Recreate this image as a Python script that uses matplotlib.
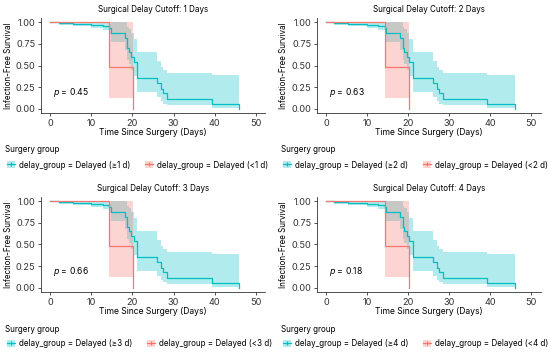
import matplotlib
matplotlib.use("Agg")
import matplotlib.pyplot as plt
from matplotlib.patches import Patch
from matplotlib.lines import Line2D

plt.rcParams['font.family'] = ['Inter', 'DejaVu Sans']

# ---- data ----
cutoffs = [1, 2, 3, 4]
p_values = ["0.45", "0.63", "0.66", "0.18"]

# delayed (>= cutoff) group: KM steps
t_ge = [0, 2, 5.4, 9.9, 12.7, 14.3, 14.7, 18.1, 18.7, 19.1, 19.6, 20.3, 21.2, 26.0, 27.0, 27.5, 28.4, 39.3, 46.0]
s_ge = [1.0, 0.99, 0.98, 0.97, 0.955, 0.93, 0.88, 0.82, 0.70, 0.66, 0.60, 0.54, 0.355, 0.30, 0.23, 0.18, 0.116, 0.058, 0.0]
lo_ge = [1.0, 0.97, 0.96, 0.94, 0.91, 0.86, 0.77, 0.68, 0.56, 0.52, 0.45, 0.38, 0.19, 0.135, 0.09, 0.06, 0.04, 0.01, 0.01]
hi_ge = [1.0, 1.0, 1.0, 0.995, 0.99, 0.985, 1.0, 1.0, 0.95, 0.92, 0.88, 0.81, 0.66, 0.55, 0.48, 0.45, 0.41, 0.39, 0.39]

# early (< cutoff) group
t_lt = [0, 14.3, 20.1]
s_lt = [1.0, 0.477, 0.0]
lo_lt = [1.0, 0.123, 0.123]
hi_lt = [1.0, 1.0, 1.0]

x_ticks = [0, 10, 20, 30, 40, 50]
y_ticks = [0.0, 0.25, 0.5, 0.75, 1.0]
y_ticklabels = ["0.00", "0.25", "0.50", "0.75", "1.00"]

teal = "#00BFC4"
red = "#F8766D"

fig = plt.figure(figsize=(5.5, 3.54), dpi=100)

W, H = 550.0, 354.0
panels = [
    (41, 18), (316.7, 18),
    (41, 197), (316.7, 197),
]
aw, ah = 224, 95

fs_tick = 6.6
fs_lab = 5.8
fs_title = 5.8
fs_leg = 5.8

for i, (px, py) in enumerate(panels):
    ax = fig.add_axes([px / W, 1 - (py + ah) / H, aw / W, ah / H])
    # CI bands
    ax.fill_between(t_ge, lo_ge, hi_ge, step='post', color=teal, alpha=0.3, lw=0)
    ax.fill_between(t_lt, lo_lt, hi_lt, step='post', color=red, alpha=0.3, lw=0)
    # curves
    ax.step(t_ge, s_ge, where='post', color=teal, lw=0.9)
    ax.step(t_lt, s_lt, where='post', color=red, lw=0.9)

    ax.set_xlim(-2.3, 52.3)
    ax.set_ylim(-0.05, 1.05)
    ax.set_xticks(x_ticks)
    ax.set_yticks(y_ticks)
    ax.set_yticklabels(y_ticklabels)
    for s in ['top', 'right']:
        ax.spines[s].set_visible(False)
    for s in ['left', 'bottom']:
        ax.spines[s].set_linewidth(0.6)
        ax.spines[s].set_color('#333333')
    ax.tick_params(labelsize=fs_tick, length=2.5, width=0.6, pad=1.5, colors='#333333', labelcolor='#333333')
    ax.set_xlabel("Time Since Surgery (Days)", fontsize=fs_lab + 0.4, labelpad=0.5)
    ax.set_ylabel("Infection-Free Survival", fontsize=fs_lab, labelpad=2)
    ax.set_title(f"Surgical Delay Cutoff: {cutoffs[i]} Days", fontsize=fs_title, pad=4)
    ax.text(0.6, 0.19, r"$\it{p}$ = " + p_values[i], fontsize=fs_lab + 0.4, va='center', ha='left')

    # legend
    c = cutoffs[i]
    h1 = (Patch(facecolor=teal, alpha=0.3, lw=0), Line2D([], [], color=teal, lw=0.9, marker='+', ms=3, mew=0.8))
    h2 = (Patch(facecolor=red, alpha=0.3, lw=0), Line2D([], [], color=red, lw=0.9, marker='+', ms=3, mew=0.8))
    leg_y = py + ah + 37
    fig.text((px - 36) / W, 1 - leg_y / H, "Surgery group", fontsize=fs_lab, va='center', ha='left')
    leg = fig.legend([h1, h2], [f"delay_group = Delayed (\u2265{c} d)", f"delay_group = Delayed (<{c} d)"],
                     loc='center left', bbox_to_anchor=((px - 34) / W, 1 - (py + ah + 52) / H),
                     ncol=2, frameon=False, fontsize=fs_leg, handlelength=1.0, handleheight=0.9,
                     columnspacing=1.85, handletextpad=0.5, borderpad=0, borderaxespad=0)

fig.savefig("out.png", dpi=100)
